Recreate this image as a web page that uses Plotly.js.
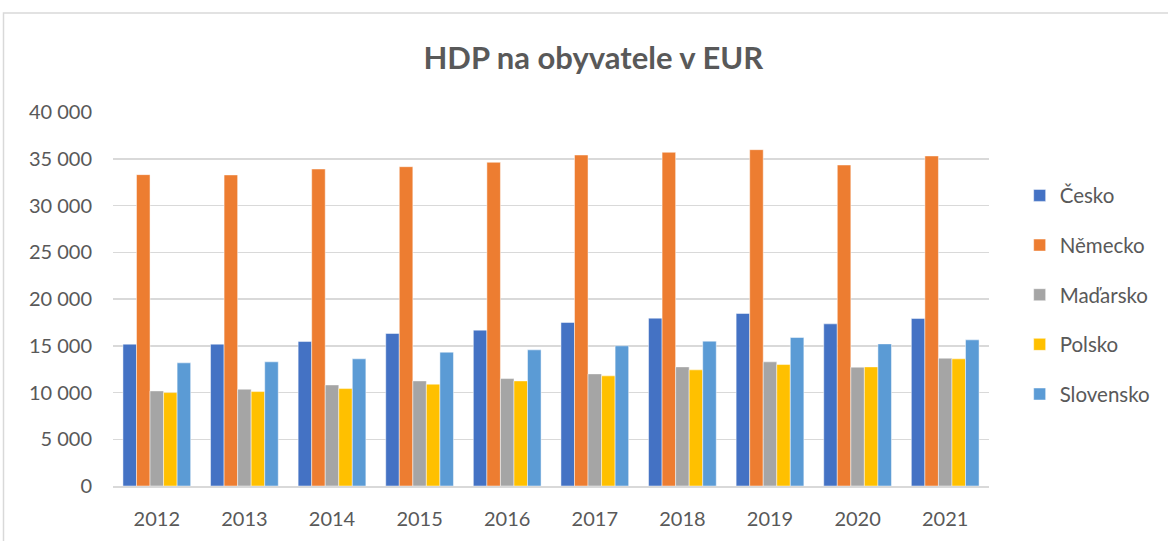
<!DOCTYPE html>
<html>
<head>
<meta charset="utf-8">
<script src="https://cdn.plot.ly/plotly-3.0.1.min.js"></script>
<style>html,body{margin:0;padding:0;background:#fff;}#chart{width:1168px;height:541px;}</style>
</head>
<body>
<div id="chart"></div>
<script>
const years = ['2012','2013','2014','2015','2016','2017','2018','2019','2020','2021'];
const cesko     = [15170,15170,15450,16310,16670,17490,17950,18450,17340,17910];
const nemecko   = [33300,33270,33900,34150,34620,35400,35690,35970,34330,35300];
const madarsko  = [10170,10350,10810,11240,11490,11990,12740,13280,12710,13670];
const polsko    = [9990,10100,10420,10890,11240,11780,12420,12990,12740,13600];
const slovensko = [13170,13280,13600,14310,14560,14990,15490,15880,15200,15630];
const seriesNames = ['Česko','Německo','Maďarsko','Polsko','Slovensko'];
const seriesData = [cesko, nemecko, madarsko, polsko, slovensko];
const colors = ['#4472C4','#ED7D31','#A5A5A5','#FFC000','#5B9BD5'];
const yTicks = [0,5000,10000,15000,20000,25000,30000,35000,40000];
const yTickText = ['0','5 000','10 000','15 000','20 000','25 000','30 000','35 000','40 000'];

const font = 'Lato, "Open Sans", sans-serif';
const traces = seriesNames.map((n,i)=>({
  type:'bar', name:n, x:years, y:seriesData[i],
  marker:{color:colors[i], line:{color:'rgba(255,255,255,0.6)', width:0.8}},
  legendgroup:'g'+i, hoverinfo:'x+y+name'
}));

const layout = {
  width:1168, height:541,
  paper_bgcolor:'#fff', plot_bgcolor:'#fff',
  margin:{l:113, r:175, t:112, b:55},
  barmode:'group', bargap:0.227, bargroupgap:0,
  title:{text:'<b>HDP na obyvatele v EUR</b>', x:0.508, xanchor:'center', y:0.893, yanchor:'middle',
         font:{family:font, size:31, color:'#595959'}},
  xaxis:{type:'category', showgrid:false, showline:true, linecolor:'#d9d9d9', linewidth:1.5,
         ticks:'', tickfont:{family:font, size:20, color:'#595959'}, ticklabelstandoff:14},
  yaxis:{range:[0,40000], tickvals:yTicks, ticktext:yTickText, showgrid:true, gridcolor:'#d9d9d9', gridwidth:1.5,
         zeroline:false, showline:false, ticks:'', tickfont:{family:font, size:20, color:'#595959'}, ticklabelstandoff:20},
  legend:{x:1.035, xanchor:'left', y:0.83, yanchor:'top', traceorder:'grouped', tracegroupgap:20,
          font:{family:font, size:20.5, color:'#595959'}, itemwidth:30},
  shapes:[{type:'rect', xref:'paper', yref:'paper', x0:-0.125, x1:1.4, y0:-0.5, y1:1.265,
           line:{color:'#d9d9d9', width:1.5}, fillcolor:'rgba(0,0,0,0)', layer:'below'}],
  showlegend:true
};
Plotly.newPlot('chart', traces, layout, {displayModeBar:false, staticPlot:true});
</script>
</body>
</html>
